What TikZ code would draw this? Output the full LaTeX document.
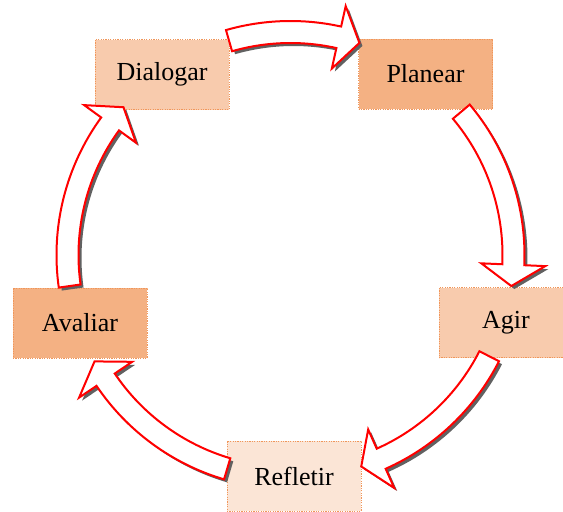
\documentclass[tikz,border=0pt]{standalone}
\usepackage{fontspec}
\setmainfont{Liberation Serif}
\definecolor{cmid}{RGB}{248,203,173}
\definecolor{cdark}{RGB}{244,177,131}
\definecolor{clight}{RGB}{251,229,214}
\definecolor{cborder}{RGB}{240,150,90}
\def\cx{290.5}
\def\cy{-255}
\newcommand\cycshape{%
  ([shift={(\cx,\cy)}]\ta:234) arc[start angle=\ta, end angle=\th, radius=234]
  -- ([shift={(\cx,\cy)}]\th:255) -- ([shift={(\cx,\cy)}]\tb:223)
  -- ([shift={(\cx,\cy)}]\th:191) -- ([shift={(\cx,\cy)}]\th:212)
  arc[start angle=\th, end angle=\ta, radius=212] -- cycle}
\newcommand\cycarrow[2]{%
  \pgfmathsetmacro\ta{#1}\pgfmathsetmacro\tb{#2}\pgfmathsetmacro\th{#2+5.5}%
  \begin{scope}[shift={(3,-3)}]\fill[arrowshadow] \cycshape;\end{scope}
  \path[arrowshape] \cycshape;}
\begin{document}
\begin{tikzpicture}[x=1pt,y=1pt,
  box/.style={draw=cborder, line width=0.8pt, dash pattern=on 1.2pt off 1.2pt,
    minimum width=134pt, minimum height=70pt, inner sep=0pt,
    font=\fontsize{26}{30}\selectfont},
  arrowshape/.style={draw=red, line width=2pt, fill=white, line join=miter},
  arrowshadow/.style={fill=black!62}]
\useasboundingbox (0,0) rectangle (563,-512);
\clip (0,0) rectangle (563,-512);
\node[box, fill=cmid] (dialogar) at (162,-74.5) {Dialogar};
\node[box, fill=cdark] (planear) at (425.5,-74) {Planear};
\node[box, fill=cmid] (agir) at (506,-322.5) {Agir};
\node[box, fill=clight] (refletir) at (294,-476) {Refletir};
\node[box, fill=cdark] (avaliar) at (80,-323) {Avaliar};
\cycarrow{106}{72}
\cycarrow{40}{-8}
\cycarrow{-27}{-71.5}
\cycarrow{-106.5}{-151.5}
\cycarrow{188}{138.5}
\end{tikzpicture}
\end{document}
